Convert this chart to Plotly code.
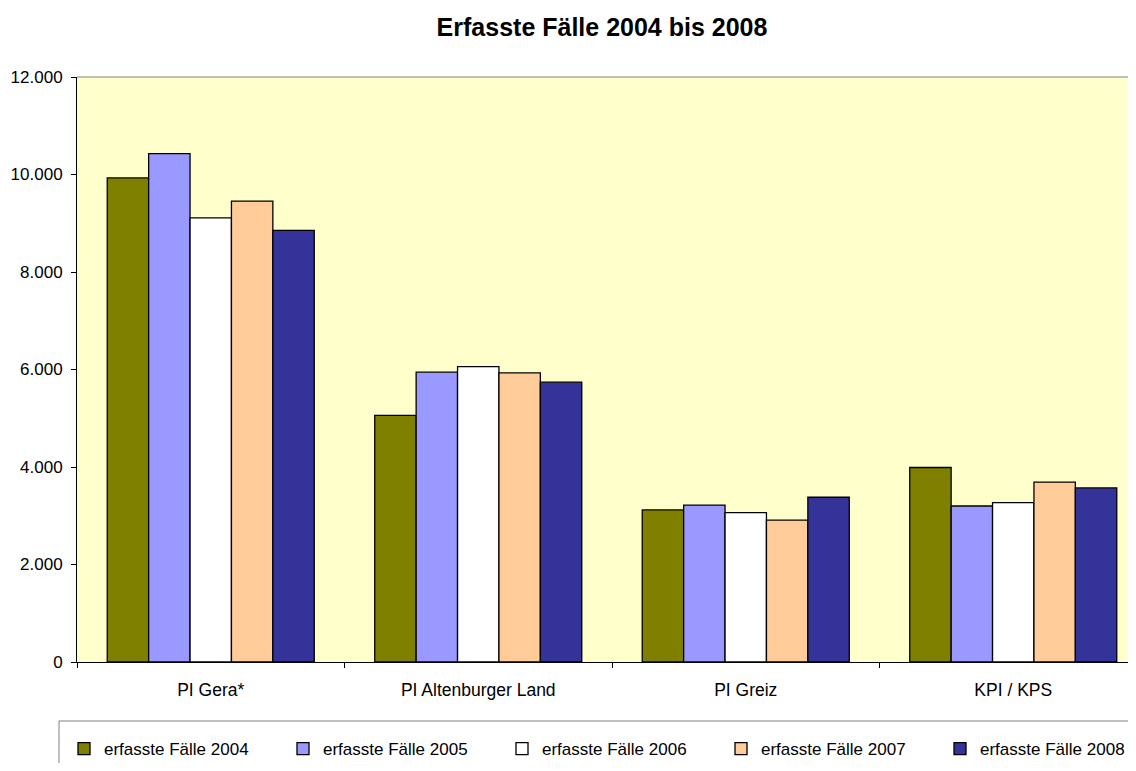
import plotly.graph_objects as go

categories = ["PI Gera*", "PI Altenburger Land", "PI Greiz", "KPI / KPS"]
series_names = ["erfasste Fälle 2004", "erfasste Fälle 2005", "erfasste Fälle 2006",
                "erfasste Fälle 2007", "erfasste Fälle 2008"]
values_2004 = [9930, 5060, 3120, 3990]
values_2005 = [10430, 5945, 3220, 3200]
values_2006 = [9110, 6060, 3065, 3270]
values_2007 = [9455, 5930, 2910, 3690]
values_2008 = [8855, 5740, 3380, 3570]
colors = ["#808000", "#9999FF", "#FFFFFF", "#FFCC99", "#333399"]

all_values = [values_2004, values_2005, values_2006, values_2007, values_2008]

# Seite hat 8px body-Rand, daher Figur etwas kleiner, damit nichts scrollt
W, H = 1120, 755
L, T, B = 69, 69, 101
PW, PH = W - L, H - T - B
CAT_W = 267.5  # Kategoriebreite im Original, rechter Rand ist abgeschnitten

fig = go.Figure()
for name, vals, col in zip(series_names, all_values, colors):
    fig.add_trace(go.Bar(
        x=categories, y=vals, name=name,
        marker=dict(color=col, line=dict(color="black", width=1.3)),
    ))

fig.update_layout(
    width=W, height=H,
    margin=dict(l=L, r=0, t=T, b=B, autoexpand=False),
    paper_bgcolor="white",
    plot_bgcolor="#FFFFCC",
    barmode="group",
    bargap=0.226,
    bargroupgap=0,
    separators=",.",
    font=dict(family="Liberation Sans, Arial, sans-serif", size=17, color="black"),
    title=dict(text="<b>Erfasste Fälle 2004 bis 2008</b>", x=594 / W, xref="container",
               xanchor="center", y=1 - 19 / H, yref="container", yanchor="middle",
               font=dict(size=25, color="black")),
    legend=dict(orientation="h", x=-13 / PW, y=-69 / PH,
                xanchor="left", yanchor="top",
                entrywidth=174, entrywidthmode="pixels",
                font=dict(size=17), bgcolor="rgba(0,0,0,0)",
                borderwidth=0, traceorder="normal"),
    showlegend=True,
)

fig.update_xaxes(range=[-0.5, -0.5 + PW / CAT_W],
                 showline=True, linecolor="black", linewidth=1,
                 ticks="outside", tickson="boundaries", ticklen=5, tickcolor="black",
                 ticklabelstandoff=12, tickfont=dict(size=17.5), showgrid=False)
fig.update_yaxes(range=[0, 12000], dtick=2000, tickformat=",d",
                 showline=True, linecolor="black", linewidth=1,
                 ticks="outside", ticklen=5, tickcolor="black",
                 ticklabelstandoff=5, showgrid=False, zeroline=False)

# Rahmen oben im Plotbereich und Legendenkasten
fig.add_shape(type="line", xref="paper", yref="paper", x0=0, x1=1, y0=1, y1=1,
              line=dict(color="#808080", width=1))
fig.add_shape(type="rect", xref="paper", yref="paper",
              x0=-18 / PW, x1=1.05, y0=-59 / PH, y1=-0.3,
              line=dict(color="#808080", width=1), fillcolor="rgba(0,0,0,0)", layer="above")

fig.write_html("out.html")
